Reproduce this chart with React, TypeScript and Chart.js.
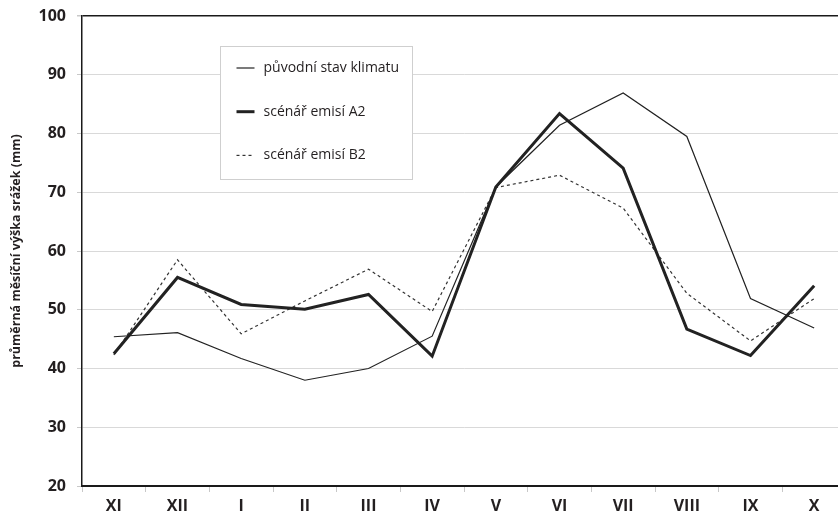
import React, { useEffect, useRef } from "react";
import { Chart, registerables } from "chart.js";

Chart.register(...registerables);

const months = ["XI", "XII", "I", "II", "III", "IV", "V", "VI", "VII", "VIII", "IX", "X"];
const baseline = [45.4, 46.1, 41.7, 38.0, 40.0, 45.5, 70.9, 81.4, 86.9, 79.5, 51.9, 46.9];
const scenarioA2 = [42.5, 55.5, 50.9, 50.1, 52.6, 42.1, 70.9, 83.4, 74.1, 46.7, 42.2, 54.1];
const scenarioB2 = [42.3, 58.5, 45.9, 51.5, 56.9, 49.7, 70.8, 72.9, 67.3, 52.8, 44.7, 51.9];
const seriesLabels = ["původní stav klimatu", "scénář emisí A2", "scénář emisí B2"];
const yMin = 20;
const yMax = 100;
const yStep = 10;
const yTitle = "průměrná měsíční výška srážek (mm)";

const FONT = "'Open Sans', 'Noto Sans', sans-serif";
const INK = "#231f20";

const boxLegend = {
  id: "boxLegend",
  afterDatasetsDraw(chart: any) {
    const ctx = chart.ctx;
    const area = chart.chartArea;
    const x0 = area.left + 138.5;
    const y0 = area.top + 30.5;
    const w = 192;
    const h = 133;
    ctx.save();
    ctx.fillStyle = "#ffffff";
    ctx.fillRect(x0, y0, w, h);
    ctx.strokeStyle = "#cfcfcf";
    ctx.lineWidth = 1;
    ctx.strokeRect(x0, y0, w, h);
    chart.data.datasets.forEach((ds: any, i: number) => {
      const y = y0 + 21.5 + i * 43.7;
      ctx.strokeStyle = ds.borderColor;
      ctx.lineWidth = ds.borderWidth;
      ctx.setLineDash(ds.borderDash || []);
      ctx.beginPath();
      ctx.moveTo(x0 + 16, y);
      ctx.lineTo(x0 + 34, y);
      ctx.stroke();
      ctx.setLineDash([]);
      ctx.fillStyle = INK;
      ctx.font = `14px ${FONT}`;
      ctx.textBaseline = "middle";
      ctx.textAlign = "left";
      ctx.fillText(ds.label, x0 + 43, y);
    });
    ctx.restore();
  },
};

export default function App() {
  const ref = useRef<HTMLCanvasElement>(null);

  useEffect(() => {
    if (!ref.current) return;
    const chart = new Chart(ref.current, {
      type: "line",
      data: {
        labels: months,
        datasets: [
          {
            label: seriesLabels[0],
            data: baseline,
            borderColor: "#222222",
            borderWidth: 1.2,
            pointRadius: 0,
            tension: 0,
            fill: false,
          },
          {
            label: seriesLabels[1],
            data: scenarioA2,
            borderColor: "#222222",
            borderWidth: 3,
            pointRadius: 0,
            tension: 0,
            fill: false,
          },
          {
            label: seriesLabels[2],
            data: scenarioB2,
            borderColor: "#333333",
            borderWidth: 1.2,
            borderDash: [3, 3],
            pointRadius: 0,
            tension: 0,
            fill: false,
          },
        ],
      },
      options: {
        responsive: false,
        animation: false,
        devicePixelRatio: 1,
        layout: { padding: { top: 16, right: 0, bottom: 0, left: 0 } },
        plugins: {
          legend: { display: false },
          tooltip: { enabled: false },
        },
        scales: {
          x: {
            type: "category",
            offset: true,
            grid: {
              offset: true,
              drawOnChartArea: false,
              drawTicks: true,
              tickLength: 6,
              tickColor: "#c8c8c8",
            },
            border: { display: true, color: "#1a1a1a", width: 2 },
            ticks: {
              color: INK,
              font: { family: FONT, size: 16, weight: "bold" },
              padding: 5,
              maxRotation: 0,
              autoSkip: false,
            },
            afterFit: (s: any) => {
              s.height = 31;
              s.paddingLeft = 0;
              s.paddingRight = 0;
            },
          },
          y: {
            min: yMin,
            max: yMax,
            ticks: {
              stepSize: yStep,
              color: INK,
              font: { family: FONT, size: 16, weight: "bold" },
              padding: 11,
            },
            grid: {
              color: (c: any) => (c.tick && c.tick.value === yMax ? "#1a1a1a" : "#d9d9d9"),
              lineWidth: (c: any) => (c.tick && c.tick.value === yMax ? 1.5 : 1),
              tickColor: "#c8c8c8",
              tickLength: 5,
            },
            border: { display: true, color: "#1a1a1a", width: 1.5 },
            title: {
              display: true,
              text: yTitle,
              color: INK,
              font: { family: FONT, size: 12.5, weight: "bold" },
              padding: { top: 9, bottom: 0 },
            },
            afterFit: (s: any) => {
              s.width = 82;
              s.paddingTop = 0;
              s.paddingBottom = 0;
            },
          },
        },
      },
      plugins: [boxLegend],
    });
    return () => chart.destroy();
  }, []);

  return (
    <div
      style={{
        position: "fixed",
        left: 0,
        top: 0,
        width: 838,
        height: 517,
        overflow: "hidden",
        background: "#ffffff",
      }}
    >
      <canvas ref={ref} width={846} height={517} style={{ width: 846, height: 517, display: "block" }} />
    </div>
  );
}
